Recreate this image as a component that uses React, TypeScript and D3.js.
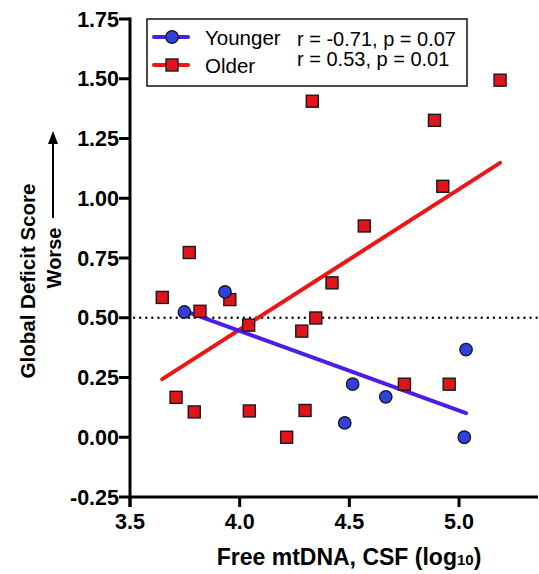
import React from "react";
import * as d3 from "d3";

// Younger group: free mtDNA (log10) vs global deficit score
const youngerX = [3.748, 3.933, 4.479, 4.515, 4.666, 5.024, 5.032];
const youngerY = [0.524, 0.608, 0.06, 0.222, 0.169, 0.0, 0.367];

// Older group
const olderX = [
  3.647, 3.71, 3.77, 3.793, 3.819, 3.955, 4.041, 4.044, 4.214, 4.283,
  4.298, 4.331, 4.347, 4.421, 4.568, 4.751, 4.888, 4.926, 4.955, 5.187,
];
const olderY = [
  0.585, 0.167, 0.773, 0.106, 0.527, 0.576, 0.469, 0.11, 0.0, 0.444,
  0.112, 1.406, 0.499, 0.646, 0.884, 0.222, 1.326, 1.05, 0.222, 1.494,
];

// Fitted regression lines (endpoints)
const youngerFitX = [3.748, 5.032];
const youngerFitY = [0.529, 0.101];
const olderFitX = [3.647, 5.187];
const olderFitY = [0.243, 1.148];

const xTicks = [3.5, 4.0, 4.5, 5.0];
const yTicks = [-0.25, 0, 0.25, 0.5, 0.75, 1.0, 1.25, 1.5, 1.75];
const refLine = 0.5;

const seriesNames = ["Younger", "Older"];
const statLabels = ["r = -0.71, p = 0.07", "r = 0.53, p = 0.01"];

const RED = "#e2141b";
const RED_LINE = "#f01414";
const BLUE = "#3340e0";
const BLUE_LINE = "#4a1ee6";
const FONT = "'Liberation Sans', Arial, Helvetica, sans-serif";

export default function App() {
  const x = d3.scaleLinear().domain([3.5, 5.36]).range([130, 538]);
  const y = d3.scaleLinear().domain([-0.25, 1.75]).range([497, 19]);
  const line = d3
    .line<[number, number]>()
    .x((d) => x(d[0]))
    .y((d) => y(d[1]));

  const older = olderX.map((v, i) => [v, olderY[i]] as [number, number]);
  const younger = youngerX.map((v, i) => [v, youngerY[i]] as [number, number]);
  const olderFit = olderFitX.map((v, i) => [v, olderFitY[i]] as [number, number]);
  const youngerFit = youngerFitX.map((v, i) => [v, youngerFitY[i]] as [number, number]);

  const sq = 12;
  const x0 = x.range()[0];
  const x1 = x.range()[1];
  const yBase = y(-0.25);

  return (
    <svg
      width={539}
      height={574}
      style={{ position: "absolute", left: 0, top: 0, background: "#fff" }}
      fontFamily={FONT}
    >
      <rect width={539} height={574} fill="#fff" />

      {/* reference line at 0.5 */}
      <line
        x1={x0 + 4}
        x2={x1}
        y1={y(refLine)}
        y2={y(refLine)}
        stroke="#111"
        strokeWidth={2.4}
        strokeDasharray="0.1 6"
        strokeLinecap="round"
      />

      {/* regression lines */}
      <path d={line(olderFit) || ""} stroke={RED_LINE} strokeWidth={4} fill="none" strokeLinecap="round" />
      <path d={line(youngerFit) || ""} stroke={BLUE_LINE} strokeWidth={4} fill="none" strokeLinecap="round" />

      {/* older points */}
      {older.map((d, i) => (
        <rect
          key={"o" + i}
          x={x(d[0]) - sq / 2}
          y={y(d[1]) - sq / 2}
          width={sq}
          height={sq}
          fill={RED}
          stroke="#1a1a1a"
          strokeWidth={1.4}
        />
      ))}
      {/* younger points */}
      {younger.map((d, i) => (
        <circle
          key={"y" + i}
          cx={x(d[0])}
          cy={y(d[1])}
          r={6.2}
          fill={BLUE}
          stroke="#1a1a1a"
          strokeWidth={1.4}
        />
      ))}

      {/* axes */}
      <line x1={x0} x2={x0} y1={y(1.75) - 1.5} y2={yBase + 10} stroke="#000" strokeWidth={3} />
      <line x1={x0 - 1.5} x2={x1} y1={yBase} y2={yBase} stroke="#000" strokeWidth={3} />
      {yTicks.map((t) => (
        <g key={"yt" + t}>
          <line x1={x0 - 11} x2={x0} y1={y(t)} y2={y(t)} stroke="#000" strokeWidth={3} />
          <text
            x={x0 - 11}
            y={y(t)}
            dy="0.36em"
            textAnchor="end"
            fontSize={21.5}
            fontWeight="bold"
          >
            {t.toFixed(2)}
          </text>
        </g>
      ))}
      {xTicks.map((t) => (
        <g key={"xt" + t}>
          <line x1={x(t)} x2={x(t)} y1={yBase} y2={yBase + 10} stroke="#000" strokeWidth={3} />
          <text x={x(t)} y={529} textAnchor="middle" fontSize={21.5} fontWeight="bold">
            {t.toFixed(1)}
          </text>
        </g>
      ))}

      {/* axis titles */}
      <text x={349} y={565} textAnchor="middle" fontSize={23} fontWeight="bold">
        Free mtDNA, CSF (log
        <tspan fontSize={15}>10</tspan>)
      </text>
      <text
        transform="translate(35,281) rotate(-90)"
        textAnchor="middle"
        fontSize={20.5}
        fontWeight="bold"
      >
        Global Deficit Score
      </text>
      <g transform="translate(61,0) rotate(-90)">
        <text x={-258} y={0} textAnchor="middle" fontSize={20} fontWeight="bold">
          Worse
        </text>
        <line x1={-218} x2={-143} y1={-8} y2={-8} stroke="#000" strokeWidth={2} />
        <path d="M -131 -8 L -144 -13 L -144 -3 Z" fill="#000" />
      </g>

      {/* legend */}
      <rect x={147} y={19} width={320} height={67} fill="#fff" stroke="#111" strokeWidth={1.5} />
      <line x1={154} x2={188} y1={37} y2={37} stroke={BLUE_LINE} strokeWidth={4} strokeLinecap="round" />
      <circle cx={172} cy={37} r={6.2} fill={BLUE} stroke="#1a1a1a" strokeWidth={1.4} />
      <line x1={154} x2={188} y1={65} y2={65} stroke={RED_LINE} strokeWidth={4} strokeLinecap="round" />
      <rect x={172 - sq / 2} y={65 - sq / 2} width={sq} height={sq} fill={RED} stroke="#1a1a1a" strokeWidth={1.4} />
      <text x={205} y={45} fontSize={20.5}>
        {seriesNames[0]}
      </text>
      <text x={205} y={73} fontSize={20.5}>
        {seriesNames[1]}
      </text>
      <text x={297} y={46} fontSize={20}>
        {statLabels[0]}
      </text>
      <text x={297} y={66} fontSize={20}>
        {statLabels[1]}
      </text>
    </svg>
  );
}
